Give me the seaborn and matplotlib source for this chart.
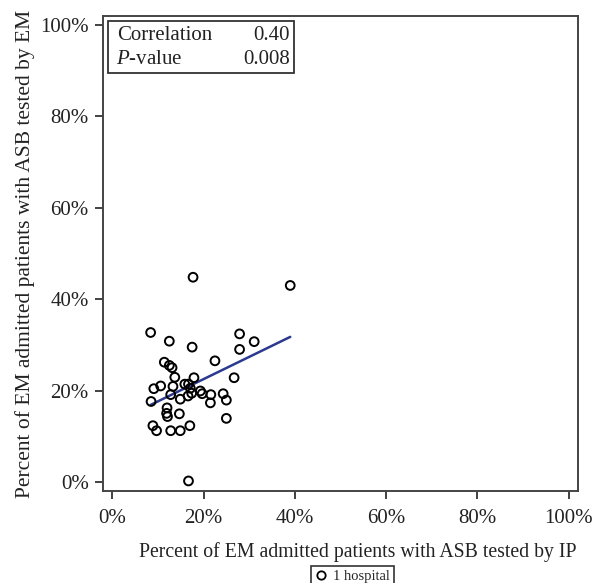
import matplotlib
matplotlib.use("Agg")
import matplotlib.pyplot as plt
import seaborn as sns
import pandas as pd
from matplotlib.lines import Line2D
from matplotlib.patches import Rectangle

# percent of EM admitted patients with ASB tested by IP (x) and by EM (y), one point per hospital
tested_ip = [17.7, 39.0, 8.4, 27.9, 12.5, 31.1, 17.5, 27.9, 22.5, 11.4,
             12.5, 13.1, 13.7, 17.9, 26.7, 15.9, 16.7, 10.6, 9.1, 13.3,
             17.1, 19.3, 19.7, 17.4, 12.8, 21.6, 24.3, 16.6, 14.9, 25.0,
             8.5, 21.5, 12.0, 11.9, 14.7, 12.1, 25.0, 8.9, 9.7, 17.0,
             12.8, 14.9, 16.7]
tested_em = [44.8, 43.0, 32.7, 32.4, 30.8, 30.7, 29.5, 29.0, 26.5, 26.2,
             25.5, 25.0, 22.9, 22.8, 22.8, 21.4, 21.4, 21.0, 20.4, 20.9,
             20.5, 19.9, 19.3, 19.4, 19.1, 19.1, 19.3, 18.8, 18.1, 17.9,
             17.6, 17.3, 16.2, 15.0, 14.9, 14.3, 13.9, 12.3, 11.2, 12.3,
             11.2, 11.2, 0.2]

stat_names = ["Correlation", "-value"]
stat_values = ["0.40", "0.008"]
ticks = [0, 20, 40, 60, 80, 100]
tick_labels = [f"{t}%" for t in ticks]

df = pd.DataFrame({"ip": tested_ip, "em": tested_em})

sns.set_style("ticks")
plt.rcParams["font.family"] = ["Liberation Serif", "DejaVu Serif"]
plt.rcParams["mathtext.fontset"] = "custom"
plt.rcParams["mathtext.it"] = "Liberation Serif:italic"
plt.rcParams["mathtext.rm"] = "Liberation Serif"

fig = plt.figure(figsize=(5.92, 5.83), dpi=100)
ax = fig.add_axes([0.1735, 0.1578, 0.8023, 0.8148])

sns.scatterplot(data=df, x="ip", y="em", ax=ax, s=40, facecolor="none",
                edgecolor="black", linewidth=1.4, zorder=3)
sns.regplot(data=df, x="ip", y="em", ax=ax, scatter=False, ci=None,
            line_kws={"color": "#2b3a8f", "linewidth": 1.8})

ax.set_xlim(-2.1, 102)
ax.set_ylim(-2, 102)
ax.set_xticks(ticks)
ax.set_xticklabels(tick_labels)
ax.set_yticks(ticks)
ax.set_yticklabels(tick_labels)
ax.tick_params(labelsize=15, length=6, width=1.3, color="#333333",
               labelcolor="#222222", pad=4)
ax.tick_params(axis="x", pad=7)
for sp in ax.spines.values():
    sp.set_linewidth(1.4)
    sp.set_color("#444444")

ax.set_xlabel("Percent of EM admitted patients with ASB tested by IP",
              fontsize=14.2, color="#222222")
ax.xaxis.set_label_coords(0.538, -0.107)
ax.set_ylabel("Percent of EM admitted patients with ASB tested by EM",
              fontsize=15.5, color="#222222", labelpad=4)

# statistics box in the top-left corner
ax.add_patch(Rectangle((0.012, 0.88), 0.39, 0.11, transform=ax.transAxes,
                       fill=False, edgecolor="#333333", linewidth=1.3, zorder=5))
ax.text(0.03, 0.958, stat_names[0], transform=ax.transAxes, fontsize=15,
        va="center", ha="left", color="#222222")
ax.text(0.027, 0.908, "$\\mathit{P}$" + stat_names[1], transform=ax.transAxes,
        fontsize=15, va="center", ha="left", color="#222222")
ax.text(0.394, 0.958, stat_values[0], transform=ax.transAxes, fontsize=15,
        va="center", ha="right", color="#222222")
ax.text(0.394, 0.908, stat_values[1], transform=ax.transAxes, fontsize=15,
        va="center", ha="right", color="#222222")

handle = Line2D([], [], linestyle="none", marker="o", markersize=6,
                markerfacecolor="none", markeredgecolor="black",
                markeredgewidth=1.3)
leg = fig.legend([handle], ["1 hospital"], loc="upper center",
                 bbox_to_anchor=(0.595, 0.030), fontsize=10.5, frameon=True,
                 fancybox=False, handlelength=0.8, handletextpad=0.4,
                 borderpad=0.3, borderaxespad=0)
leg.get_frame().set_edgecolor("black")
leg.get_frame().set_linewidth(1.2)

fig.savefig("out.png", dpi=100)
